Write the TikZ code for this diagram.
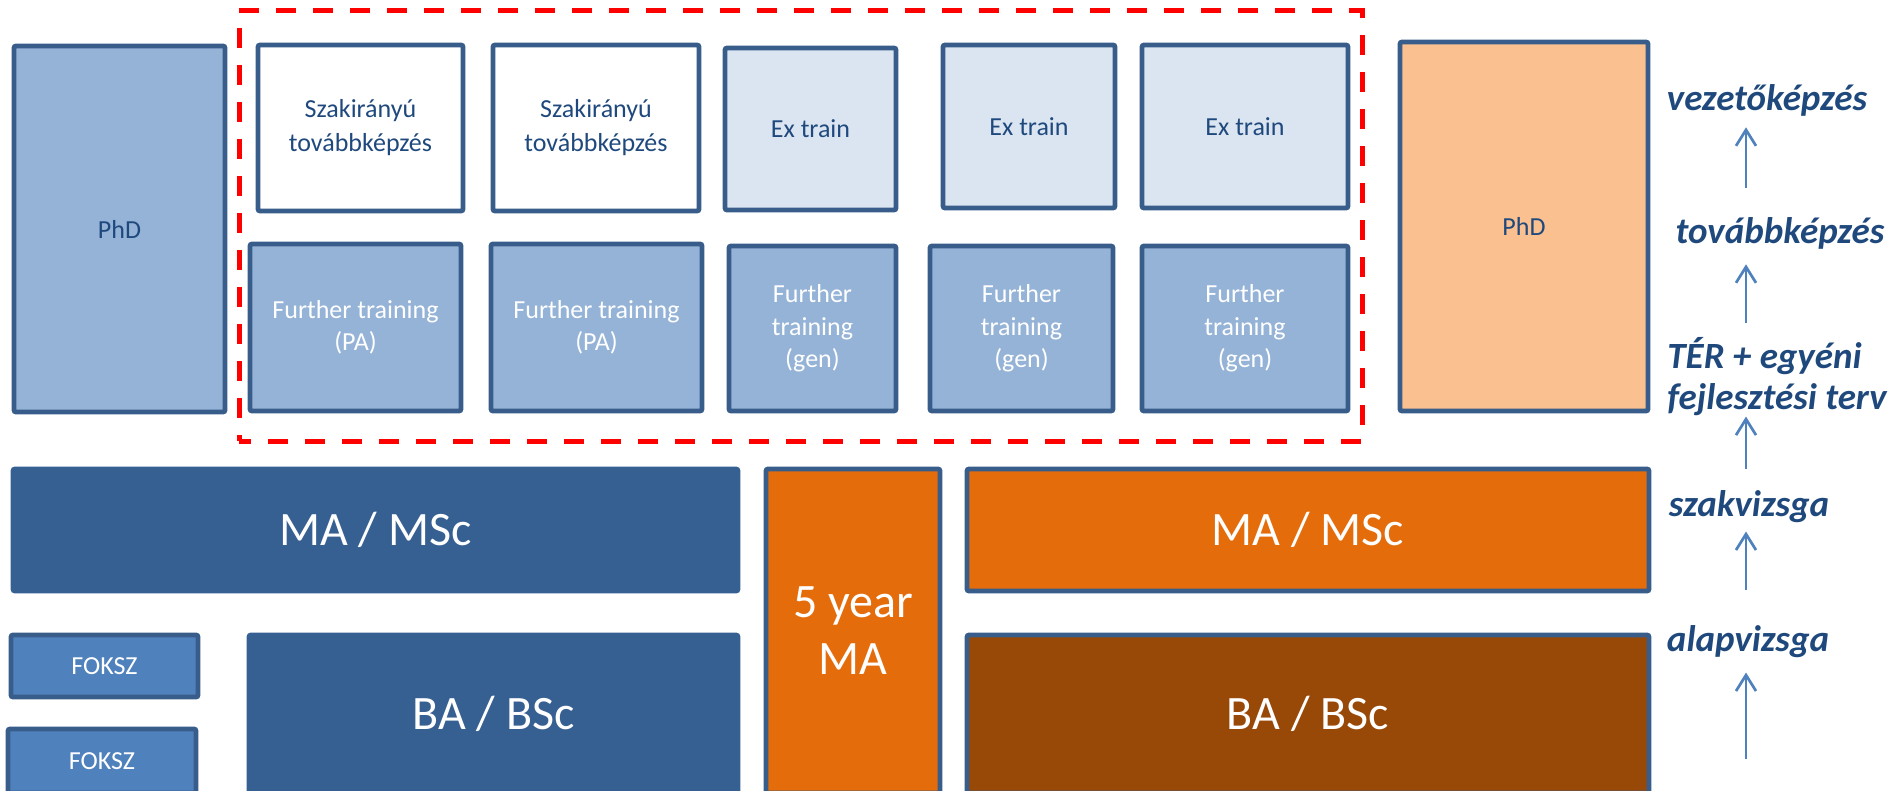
\documentclass[tikz,border=0pt]{standalone}
\usepackage{fontspec}
\setmainfont{Carlito}
\usetikzlibrary{positioning, arrows.meta}
\definecolor{edgeblue}{HTML}{385D8A}
\definecolor{darkblue}{HTML}{376092}
\definecolor{midblue}{HTML}{95B3D7}
\definecolor{paleblue}{HTML}{DBE5F1}
\definecolor{fokszblue}{HTML}{4F81BD}
\definecolor{textblue}{HTML}{1F497D}
\definecolor{orangebox}{HTML}{E46C0A}
\definecolor{brownbox}{HTML}{984807}
\definecolor{peachbox}{HTML}{FAC090}

\begin{document}
\begin{tikzpicture}[x=0.5pt, y=-0.5pt,
    dims/.style 2 args={minimum width=#1pt, minimum height=#2pt},
    box/.style={draw=edgeblue, line width=2.4pt, rounded corners=1pt, inner sep=0pt, align=center,
                font=\fontsize{13}{16.25}\selectfont, text=textblue},
    szbox/.style={box, fill=white, font=\fontsize{13}{17}\selectfont},
    ftbox/.style={box, fill=midblue, text=white},
    bigbox/.style={box, text=white, font=\fontsize{24}{28.5}\selectfont},
    lbl/.style={inner sep=0pt, text=textblue, font=\fontsize{18.5}{20.5}\selectfont\bfseries\itshape},
    arr/.style={-{Straight Barb[length=8pt, width=10pt]}, line width=1.35pt, fokszblue},
    redframe/.style={draw=red, line width=2.5pt, dash pattern=on 10pt off 8.5pt, dash phase=4pt, inner sep=0pt}]
    \clip (0,0) rectangle (1891,791);

    % top block
    \node[box, fill=midblue, dims={105.5}{183}] (phdL) at (119.5,229) {PhD};
    \node[redframe, dims={561.5}{215}] (train) at (800.5,226) {};
    \node[szbox, dims={102.5}{83}] (szak1) at (360.5,128) {Szakirányú\\továbbképzés};
    \node[szbox, dims={103}{83}] (szak2) at (596,128) {Szakirányú\\továbbképzés};
    \node[box, fill=paleblue, dims={85.5}{81}] (ex1) at (810.5,129) {Ex train};
    \node[box, fill=paleblue, dims={86}{81.5}] (ex2) at (1029,126.5) {Ex train};
    \node[box, fill=paleblue, dims={103}{81.5}] (ex3) at (1245,126.5) {Ex train};
    \node[ftbox, dims={105.5}{83.5}] (pa1) at (355.5,327.5) {Further training\\(PA)};
    \node[ftbox, dims={105.5}{83.5}] (pa2) at (596.5,327.5) {Further training\\(PA)};
    \node[ftbox, dims={83.5}{82.5}] (gen1) at (812.5,328.5) {Further\\training\\(gen)};
    \node[ftbox, dims={91.5}{82.5}] (gen2) at (1021.5,328.5) {Further\\training\\(gen)};
    \node[ftbox, dims={103}{82.5}] (gen3) at (1245,328.5) {Further\\training\\(gen)};
    \node[box, fill=peachbox, dims={124}{184.5}] (phdR) at (1524,226.5) {PhD};

    % degrees
    \node[bigbox, fill=darkblue, draw=darkblue, dims={362.5}{61}] (maL) at (375.5,530) {MA / MSc};
    \node[bigbox, fill=orangebox, dims={87}{162}] (five) at (853,631) {5 year\\MA};
    \node[bigbox, fill=orangebox, dims={341}{61}] (maR) at (1308,530) {MA / MSc};
    \node[box, fill=fokszblue, text=white, dims={93.5}{31}] (fok1) at (104.5,666) {FOKSZ};
    \node[box, fill=fokszblue, text=white, dims={94}{32}] (fok2) at (102,761) {FOKSZ};
    \node[bigbox, fill=darkblue, draw=darkblue, dims={244.5}{79}] (baL) at (493.5,714) {BA / BSc};
    \node[bigbox, fill=brownbox, dims={341}{79}] (baR) at (1308,714) {BA / BSc};

    % steps
    \node[lbl] (vez) at (1767,100) {vezetőképzés};
    \node[lbl] (tov) at (1780,233) {továbbképzés};
    \node[lbl, align=left, anchor=west] (ter) at (1667,377) {TÉR + egyéni\\fejlesztési terv};
    \node[lbl] (szv) at (1749,507) {szakvizsga};
    \node[lbl] (alv) at (1748,642) {alapvizsga};
    \coordinate (ax) at (1746,0);
    \coordinate (start) at (1746,759);
    \draw[arr, shorten <=14.5pt, shorten >=5.5pt] (tov.north -| ax) -- (vez.south -| ax);
    \draw[arr, shorten <=7pt, shorten >=7.5pt] (ter.north -| ax) -- (tov.south -| ax);
    \draw[arr, shorten <=11pt, shorten >=0pt] (szv.north -| ax) -- (ter.south -| ax);
    \draw[arr, shorten <=18pt, shorten >=4pt] (alv.north -| ax) -- (szv.south -| ax);
    \draw[arr, shorten >=7pt] (start) -- (alv.south -| ax);
\end{tikzpicture}
\end{document}
